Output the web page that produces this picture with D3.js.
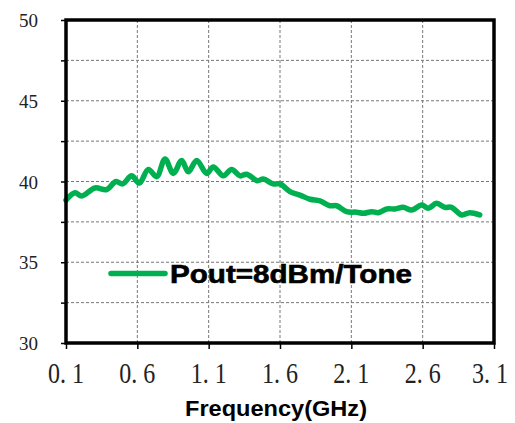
<!DOCTYPE html>
<html>
<head>
<meta charset="utf-8">
<script src="https://cdn.jsdelivr.net/npm/d3@7"></script>
<style>
  body { margin: 0; background: #fff; }
  svg { display: block; }
</style>
</head>
<body>
<svg id="chart" width="515" height="423"></svg>
<script>
const freq = [0.10,0.163,0.21,0.303,0.385,0.45,0.497,0.56,0.614,0.677,0.736,0.794,0.852,0.911,0.957,1.016,1.086,1.132,1.203,1.261,1.32,1.367,1.44,1.483,1.553,1.60,1.67,1.74,1.81,1.88,1.95,1.997,2.067,2.137,2.184,2.243,2.289,2.348,2.406,2.464,2.523,2.593,2.639,2.698,2.756,2.803,2.873,2.93,3.0];
const pout = [38.85,39.3,39.1,39.6,39.5,40.0,39.85,40.35,39.9,40.75,40.3,41.4,40.5,41.3,40.6,41.3,40.5,40.9,40.35,40.75,40.35,40.45,40.05,40.15,39.85,39.85,39.37,39.16,38.9,38.8,38.5,38.5,38.13,38.1,38.03,38.13,38.07,38.3,38.3,38.4,38.23,38.55,38.34,38.65,38.4,38.4,37.93,38.07,37.93];
const xTicks = [0.1,0.6,1.1,1.6,2.1,2.6,3.1];
const xTickLabels = ["0. 1","0. 6","1. 1","1. 6","2. 1","2. 6","3. 1"];
const yTicks = [30,32.5,35,37.5,40,42.5,45,47.5,50];
const yTickLabels = [30,35,40,45,50];
const seriesName = "Pout=8dBm/Tone";
const xTitle = "Frequency(GHz)";

const svg = d3.select("#chart");
const L = 66, R = 494, T = 20, B = 343;
const x = d3.scaleLinear().domain([0.1, 3.1]).range([L, R]);
const y = d3.scaleLinear().domain([30, 50]).range([B, T]);

// grid
const grid = svg.append("g");
grid.selectAll("line.v").data(xTicks.slice(1, -1)).join("line")
  .attr("x1", d => x(d)).attr("x2", d => x(d)).attr("y1", T).attr("y2", B)
  .attr("stroke", "#777").attr("stroke-width", 1).attr("stroke-dasharray", "3,2");
grid.selectAll("line.h").data(yTicks.slice(1, -1)).join("line")
  .attr("y1", d => y(d)).attr("y2", d => y(d)).attr("x1", L).attr("x2", R)
  .attr("stroke", "#777").attr("stroke-width", 1).attr("stroke-dasharray", "3,2");

// axes ticks
const yAxis = d3.axisLeft(y).tickValues(yTicks).tickSize(5).tickFormat("");
const gy = svg.append("g").attr("transform", `translate(${L},0)`).call(yAxis);
gy.select(".domain").remove();
gy.selectAll("line").attr("stroke", "#000").attr("stroke-width", 1.5);

const xAxis = d3.axisBottom(x).tickValues(xTicks).tickSize(6).tickFormat("");
const gx = svg.append("g").attr("transform", `translate(0,${B})`).call(xAxis);
gx.select(".domain").remove();
gx.selectAll("line").attr("stroke", "#000").attr("stroke-width", 1.5);

// y labels
svg.append("g").selectAll("text").data(yTickLabels).join("text")
  .attr("x", 38).attr("y", d => y(d) + 7)
  .attr("text-anchor", "end")
  .attr("font-family", "Liberation Serif, serif").attr("font-size", 19)
  .attr("fill", "#222").text(d => d);

// x labels
svg.append("g").selectAll("text").data(xTicks).join("text")
  .attr("x", (d, i) => x(d) - (i === xTicks.length - 1 ? 4 : 0)).attr("y", 383)
  .attr("text-anchor", "middle")
  .attr("font-family", "Liberation Serif, serif").attr("font-size", 29)
  .attr("textLength", 36).attr("lengthAdjust", "spacingAndGlyphs")
  .attr("fill", "#222").text((d, i) => xTickLabels[i]);

// x title
svg.append("text").attr("x", 276).attr("y", 416)
  .attr("text-anchor", "middle")
  .attr("font-family", "Liberation Sans, Arial, sans-serif").attr("font-weight", "bold")
  .attr("font-size", 22).attr("textLength", 182).attr("lengthAdjust", "spacingAndGlyphs")
  .attr("fill", "#000").text(xTitle);

// line
const line = d3.line().x((d, i) => x(freq[i])).y(d => y(d)).curve(d3.curveCatmullRom.alpha(0.5));
svg.append("path").datum(pout).attr("d", line)
  .attr("fill", "none").attr("stroke", "#00B050").attr("stroke-width", 5.5)
  .attr("stroke-linejoin", "round").attr("stroke-linecap", "round");

// frame
svg.append("rect").attr("x", L).attr("y", T).attr("width", R - L).attr("height", B - T)
  .attr("fill", "none").attr("stroke", "#000").attr("stroke-width", 3.5);

// legend
svg.append("line").attr("x1", 111).attr("x2", 165).attr("y1", 273.5).attr("y2", 273.5)
  .attr("stroke", "#00B050").attr("stroke-width", 5.5).attr("stroke-linecap", "round");
svg.append("text").attr("x", 170).attr("y", 283)
  .attr("font-family", "Liberation Sans, Arial, sans-serif").attr("font-weight", "bold")
  .attr("font-size", 25).attr("textLength", 242).attr("lengthAdjust", "spacingAndGlyphs")
  .attr("stroke", "#000").attr("stroke-width", 0.6)
  .attr("fill", "#000").text(seriesName);
</script>
</body>
</html>
